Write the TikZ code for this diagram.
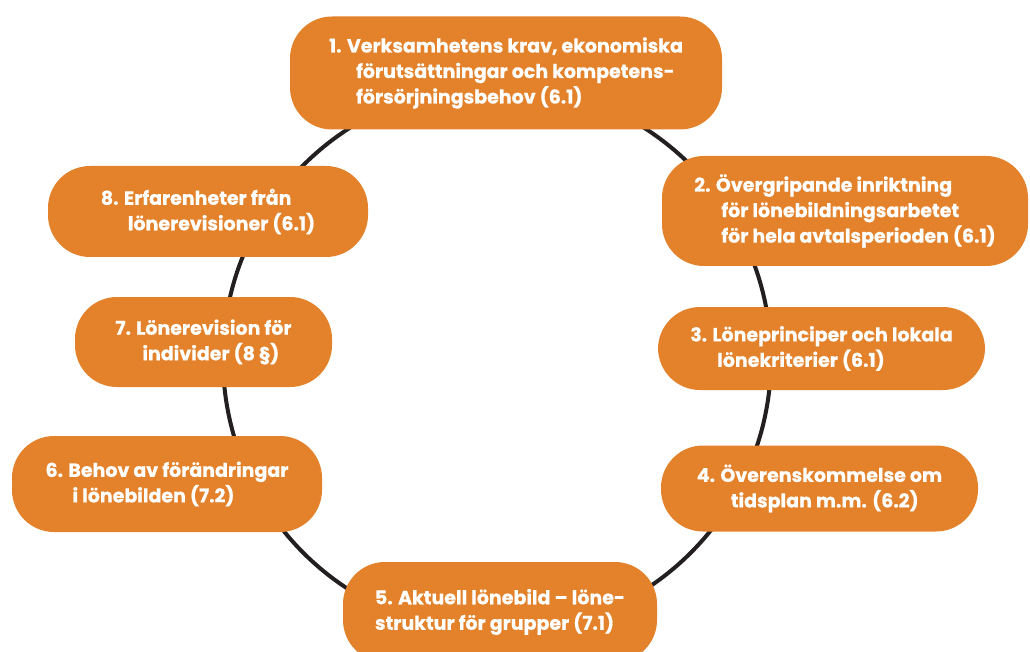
\documentclass[tikz,border=0pt]{standalone}
\usepackage{fontspec}
\setmainfont{Poppins}[BoldFeatures={FakeBold=0.6}]
\definecolor{boxorange}{RGB}{227,130,43}
\definecolor{ringblack}{RGB}{35,31,32}
\newlength{\hang}
\begin{document}
\begin{tikzpicture}[x=1pt,y=-1pt,
  stepbox/.style={draw=none,fill=boxorange,rounded corners=42pt,text=white,
    font=\fontsize{19}{25.5}\selectfont\bfseries,align=left,inner sep=0pt},
  ring/.style={draw=ringblack,line width=4pt}]
\useasboundingbox (0,0) rectangle (1030,652);
\setlength{\hang}{27pt}
\node[coordinate] (c) at (497,359) {};
\draw[ring] (c) circle[radius=274pt];
\node[stepbox,minimum width=432pt,minimum height=113pt] (b1) at (506,73)
  {1. Verksamhetens krav, ekonomiska\\\hspace*{\hang}förutsättningar och kompetens-\\\hspace*{\hang}försörjningsbehov (6.1)};
\node[stepbox,minimum width=366pt,minimum height=110pt] (b2) at (845,211)
  {2. Övergripande inriktning\\\hspace*{\hang}för lönebildningsarbetet\\\hspace*{\hang}för hela avtalsperioden (6.1)};
\node[stepbox,minimum width=327pt,minimum height=83pt] (b3) at (821.5,348.5)
  {3. Löneprinciper och lokala\\\hspace*{\hang}lönekriterier (6.1)};
\node[stepbox,minimum width=317pt,minimum height=86pt] (b4) at (819.5,488.5)
  {4. Överenskommelse om\\\hspace*{34pt}tidsplan m.m. (6.2)};
\node[stepbox,minimum width=314pt,minimum height=100pt] (b5) at (500,612)
  {5. Aktuell lönebild – löne-\\struktur för grupper (7.1)};
\node[stepbox,minimum width=310pt,minimum height=96pt] (b6) at (167,484)
  {6. Behov av förändringar\\\hspace*{\hang}i lönebilden (7.2)};
\node[stepbox,minimum width=257pt,minimum height=90pt] (b7) at (203.5,342)
  {7. Lönerevision för\\\hspace*{\hang}individer (8 §)};
\node[stepbox,minimum width=320pt,minimum height=91pt] (b8) at (208,211.5)
  {8. Erfarenheter från\\\hspace*{\hang}lönerevisioner (6.1)};
\end{tikzpicture}
\end{document}
